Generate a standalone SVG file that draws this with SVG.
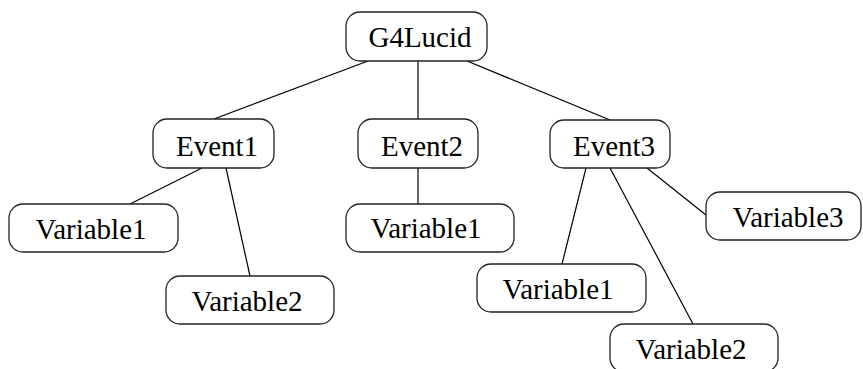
<svg xmlns="http://www.w3.org/2000/svg" width="863" height="369" viewBox="0 0 863 369">
  <style>
    .box { fill: #fff; stroke: #222; stroke-width: 1.3; }
    .lbl { font-family: "Liberation Serif", "Times New Roman", "DejaVu Serif", serif; font-size: 29px; fill: #000; text-anchor: middle; }
    .edge { stroke: #000; stroke-width: 1.2; fill: none; }
  </style>
  <rect width="863" height="369" fill="#fff"/>
  <g id="connectors">
    <line class="edge" x1="368" y1="61" x2="214" y2="119"/>
    <line class="edge" x1="418" y1="61" x2="418" y2="119"/>
    <line class="edge" x1="467" y1="61" x2="610" y2="120"/>
    <line class="edge" x1="202" y1="168" x2="130" y2="204"/>
    <line class="edge" x1="226" y1="168" x2="250" y2="276"/>
    <line class="edge" x1="418" y1="168" x2="418" y2="204"/>
    <line class="edge" x1="586" y1="168" x2="562" y2="264"/>
    <line class="edge" x1="610" y1="168" x2="693" y2="324"/>
    <line class="edge" x1="647" y1="168" x2="706" y2="215"/>
  </g>
  <g id="g4lucid">
    <rect class="box" x="346" y="12" width="141" height="49" rx="14"/>
    <text class="lbl" x="420" y="47">G4Lucid</text>
  </g>
  <g id="event1">
    <rect class="box" x="153" y="119" width="121" height="49" rx="14"/>
    <text class="lbl" x="217" y="156">Event1</text>
  </g>
  <g id="event2">
    <rect class="box" x="358" y="119" width="120" height="49" rx="14"/>
    <text class="lbl" x="422" y="156">Event2</text>
  </g>
  <g id="event3">
    <rect class="box" x="550" y="120" width="120" height="48" rx="14"/>
    <text class="lbl" x="614" y="156">Event3</text>
  </g>
  <g id="event1-variable1">
    <rect class="box" x="9" y="204" width="169" height="48" rx="14"/>
    <text class="lbl" x="91" y="239">Variable1</text>
  </g>
  <g id="event1-variable2">
    <rect class="box" x="166" y="276" width="168" height="48" rx="14"/>
    <text class="lbl" x="247" y="311">Variable2</text>
  </g>
  <g id="event2-variable1">
    <rect class="box" x="346" y="204" width="168" height="48" rx="14"/>
    <text class="lbl" x="426" y="238">Variable1</text>
  </g>
  <g id="event3-variable1">
    <rect class="box" x="477" y="264" width="169" height="48" rx="14"/>
    <text class="lbl" x="558" y="299">Variable1</text>
  </g>
  <g id="event3-variable2">
    <rect class="box" x="610" y="324" width="168" height="48" rx="14"/>
    <text class="lbl" x="691" y="359">Variable2</text>
  </g>
  <g id="event3-variable3">
    <rect class="box" x="706" y="192" width="155" height="48" rx="14"/>
    <text class="lbl" x="788" y="227">Variable3</text>
  </g>
</svg>
